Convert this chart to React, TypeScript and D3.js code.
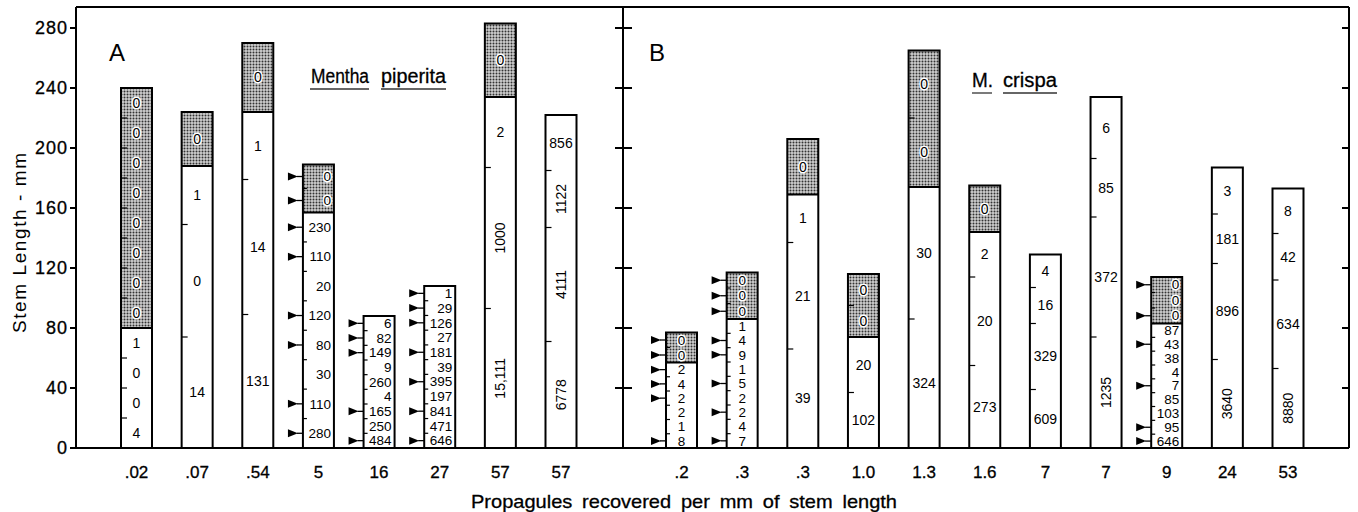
import React from "react";
import * as d3 from "d3";

const width = 1358;
const height = 512;

// bar categories (propagules recovered per mm of stem length)
const categories = [".02", ".07", ".54", "5", "16", "27", "57", "57", ".2", ".3", ".3", "1.0", "1.3", "1.6", "7", "7", "9", "24", "53"];
const panelACount = 8;

// stem length (mm) of each bar
const stemLength = [240, 224, 270, 189, 88, 108, 283, 222, 77, 117, 206, 116, 265, 175, 129, 234, 114, 187, 173];

// stem length from which the section is stippled (null = none)
const shadedFrom = [80, 188, 224, 157, null, null, 234, null, 57, 86, 169, 74, 174, 144, null, null, 83, null, null];

// numbers written in each section, bottom to top
const segmentLabels = [
  ["4", "0", "0", "1", "0", "0", "0", "0", "0", "0", "0", "0"],
  ["14", "0", "1", "0"],
  ["131", "14", "1", "0"],
  ["280", "110", "30", "80", "120", "20", "110", "230", "0", "0"],
  ["484", "250", "165", "4", "260", "9", "149", "82", "6"],
  ["646", "471", "841", "197", "395", "39", "181", "27", "126", "29", "1"],
  ["15,111", "1000", "2", "0"],
  ["6778", "4111", "1122", "856"],
  ["8", "1", "2", "2", "4", "2", "0", "0"],
  ["7", "4", "2", "2", "5", "1", "9", "4", "1", "0", "0", "0"],
  ["39", "21", "1", "0"],
  ["102", "20", "0", "0"],
  ["324", "30", "0", "0"],
  ["273", "20", "2", "0"],
  ["609", "329", "16", "4"],
  ["1235", "372", "85", "6"],
  ["646", "95", "103", "85", "7", "4", "38", "43", "87", "0", "0", "0"],
  ["3640", "896", "181", "3"],
  ["8880", "634", "42", "8"],
];

// section boundaries (mm); null = sections of equal length
const segmentBreaks = [
  null, [74, 149, 188], [89, 179, 224], null, null, null, [93, 187, 234], [71, 147, 185],
  null, null, [66, 137, 169], [37, 74, 95], [86, 174, 220], [55, 114, 144], [39, 83, 107],
  [74, 154, 193], null, [59, 123, 156], [53, 112, 143],
];

// sections marked with an arrowhead (indices, bottom to top)
const arrowed = [
  [], [], [], [0, 1, 3, 4, 6, 7, 8, 9], [0, 2, 6, 7, 8], [0, 2, 4, 6, 8, 9, 10], [], [],
  [0, 3, 4, 5, 6, 7], [0, 2, 4, 6, 7, 9, 10, 11], [], [], [], [], [], [], [0, 1, 4, 7, 9, 11], [], [],
];

const yTicks = [0, 40, 80, 120, 160, 200, 240, 280];

const rightAligned = new Set([3, 4, 5, 16]);
const font = "'Liberation Sans', Arial, Helvetica, sans-serif";
const ink = "#000";
const barW = 31;

const y = d3.scaleLinear().domain([0, 280]).range([448, 28]);
const xA = d3.scalePoint<number>().domain(d3.range(panelACount)).range([136.5, 561]);
const xB = d3.scalePoint<number>().domain(d3.range(panelACount, categories.length)).range([681.5, 1288]);
const xc = (i: number) => (i < panelACount ? xA(i)! : xB(i)!);

const left = 76, right = 1349, top = 7, divider = 623;

function sections(i: number) {
  const labels = segmentLabels[i];
  const total = stemLength[i];
  const sf = shadedFrom[i];
  let bounds: number[];
  if (segmentBreaks[i]) {
    bounds = [0, ...segmentBreaks[i]!, total];
  } else {
    // trailing zeros sit in the stippled part
    let ns = 0;
    if (sf != null) {
      for (let k = labels.length - 1; k >= 0 && labels[k] === "0"; k--) ns++;
      if (i === 0) ns = 8;
    }
    const nw = labels.length - ns;
    const lowTop = sf != null ? sf : total;
    bounds = d3.range(nw + 1).map((k) => (lowTop * k) / nw);
    if (ns > 0) bounds = bounds.concat(d3.range(1, ns + 1).map((k) => lowTop + ((total - lowTop) * k) / ns));
  }
  return labels.map((t, k) => ({ t, lo: bounds[k], hi: bounds[k + 1] }));
}

function Bar({ i }: { i: number }) {
  const cx = xc(i);
  const x0 = cx - barW / 2;
  const x1 = cx + barW / 2;
  const total = stemLength[i];
  const sf = shadedFrom[i];
  const segs = sections(i);
  const dense = segmentBreaks[i] === null && i !== 0;
  const fs = dense ? 13.5 : 14;
  return (
    <g>
      <rect x={x0} y={y(total)} width={barW} height={y(0) - y(total)} fill="#fff" />
      {sf != null && (
        <rect x={x0} y={y(total)} width={barW} height={y(sf) - y(total)} fill="url(#stipple)" />
      )}
      {sf != null && <line x1={x0} x2={x1} y1={y(sf)} y2={y(sf)} stroke={ink} strokeWidth={2} />}
      {segs.slice(1).map((s, k) => (
        <line key={"t" + k} x1={x0} x2={x0 + (dense ? 4 : 6)} y1={y(s.lo)} y2={y(s.lo)} stroke={ink} strokeWidth={1.2} />
      ))}
      <rect x={x0} y={y(total)} width={barW} height={y(0) - y(total)} fill="none" stroke={ink} strokeWidth={2} />
      {segs.map((s, k) => {
        const ym = y((s.lo + s.hi) / 2);
        const inShade = sf != null && s.lo >= sf - 0.01;
        if (s.t.length >= 4) {
          return (
            <text key={k} transform={`translate(${cx},${ym}) rotate(-90)`} textAnchor="middle" dy="0.35em" fontSize={fs} fill={ink}>
              {s.t}
            </text>
          );
        }
        const ra = dense && rightAligned.has(i);
        return (
          <text
            key={k}
            x={ra ? x1 - 3 : cx}
            y={ym}
            dy="0.35em"
            textAnchor={ra ? "end" : "middle"}
            fontSize={fs}
            fill={ink}
            stroke={inShade ? "#fff" : "none"}
            strokeWidth={inShade ? 3 : 0}
            paintOrder="stroke"
          >
            {s.t}
          </text>
        );
      })}
      {arrowed[i].map((k) => {
        const s = segs[k];
        const ya = y((s.lo + s.hi) / 2);
        return (
          <g key={"a" + k}>
            <path d={`M${x0 - 15},${ya - 4}L${x0 - 5},${ya}L${x0 - 15},${ya + 4}Z`} fill={ink} />
            <line x1={x0 - 6} x2={x0} y1={ya} y2={ya} stroke={ink} strokeWidth={1.3} />
          </g>
        );
      })}
    </g>
  );
}

export default function App() {
  return (
    <svg width={width} height={height} style={{ position: "absolute", left: 0, top: 0, fontFamily: font }}>
      <defs>
        <pattern id="stipple" width={3} height={3} patternUnits="userSpaceOnUse">
          <rect width={3} height={3} fill="#cfcfcf" />
          <circle cx={1.5} cy={1.5} r={1} fill="#333" />
        </pattern>
      </defs>
      <rect width={width} height={height} fill="#fff" />

      {/* frame */}
      <g stroke={ink} strokeWidth={2} fill="none">
        <line x1={left} x2={right} y1={top} y2={top} />
        <line x1={left} x2={left} y1={top} y2={y(0)} />
        <line x1={right} x2={right} y1={top} y2={y(0)} />
        <line x1={divider} x2={divider} y1={top} y2={y(0)} />
        <line x1={left - 6} x2={right} y1={y(0)} y2={y(0)} />
        {yTicks.map((t) => (
          <g key={t}>
            <line x1={left - 6} x2={left} y1={y(t)} y2={y(t)} />
            {t > 0 && <line x1={divider - 8} x2={divider + 9} y1={y(t)} y2={y(t)} />}
            {t > 0 && <line x1={right - 7} x2={right} y1={y(t)} y2={y(t)} />}
          </g>
        ))}
      </g>
      {yTicks.map((t) => (
        <text key={t} x={left - 8} y={y(t)} dy="0.36em" textAnchor="end" fontSize={18} letterSpacing={1} fill={ink} stroke={ink} strokeWidth={0.3}>
          {t}
        </text>
      ))}
      <text transform={`translate(19,243) rotate(-90)`} textAnchor="middle" dy="0.35em" fontSize={19} textLength={180} lengthAdjust="spacing" fill={ink}>
        Stem Length - mm
      </text>

      {categories.map((_, i) => (
        <Bar key={i} i={i} />
      ))}

      {categories.map((c, i) => (
        <text key={"c" + i} x={xc(i)} y={472} dy="0.35em" textAnchor="middle" fontSize={17} fill={ink} stroke={ink} strokeWidth={0.3}>
          {c}
        </text>
      ))}
      <text x={684} y={501} dy="0.35em" textAnchor="middle" fontSize={19} wordSpacing={4} textLength={426} lengthAdjust="spacingAndGlyphs" fill={ink} stroke={ink} strokeWidth={0.3}>
        Propagules recovered per mm of stem length
      </text>

      {/* panel letters and species names */}
      <text x={109} y={61} fontSize={24} fill={ink}>A</text>
      <text x={649} y={61} fontSize={24} fill={ink}>B</text>
      <g fill={ink} fontSize={20} stroke={ink} strokeWidth={0.3}>
        <text x={311} y={83} textLength={58} lengthAdjust="spacingAndGlyphs">Mentha</text>
        <text x={381} y={83} textLength={65} lengthAdjust="spacingAndGlyphs">piperita</text>
        <text x={972} y={87} textLength={21} lengthAdjust="spacingAndGlyphs">M.</text>
        <text x={1003} y={87} textLength={54} lengthAdjust="spacingAndGlyphs">crispa</text>
      </g>
      <g stroke="#333" strokeWidth={1.3}>
        <line x1={310} x2={369} y1={89} y2={89} />
        <line x1={381} x2={446} y1={89} y2={89} />
        <line x1={972} x2={992} y1={93} y2={93} />
        <line x1={1003} x2={1057} y1={93} y2={93} />
      </g>
    </svg>
  );
}
